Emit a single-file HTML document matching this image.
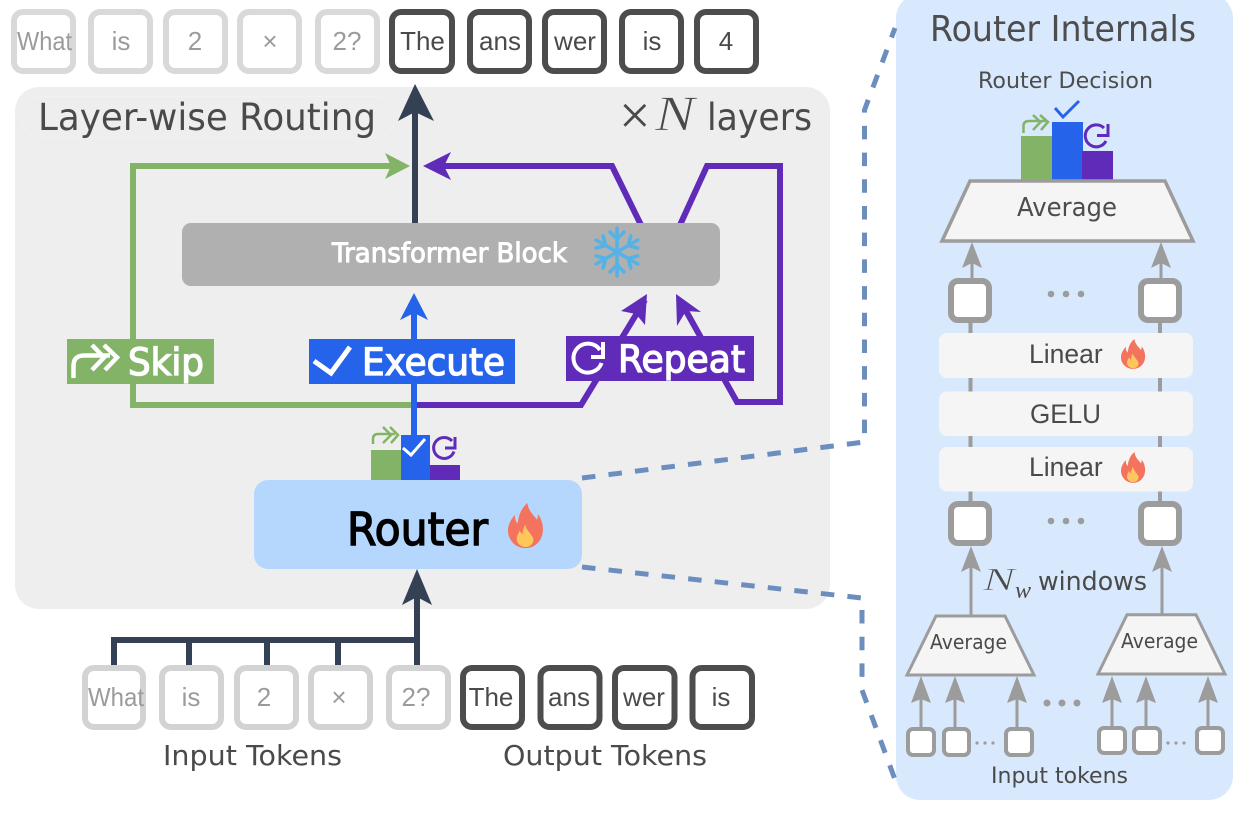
<!DOCTYPE html>
<html><head><meta charset="utf-8"><style>
html,body{margin:0;padding:0;background:#fff;width:1251px;height:819px;overflow:hidden}
svg{display:block}
.d{font-family:"DejaVu Sans",sans-serif}
.l{font-family:"Liberation Sans",sans-serif}
.s{font-family:"Liberation Serif",serif}
.tl{fill:#9b9b9b;font-size:26px;text-anchor:middle}
.td{fill:#4a4a4a;font-size:26px;text-anchor:middle}
.bl{fill:#fff;stroke:#d9d9d9;stroke-width:6}
.bd{fill:#fff;stroke:#4d4d4d;stroke-width:6}
.g{fill:#fff;stroke:#9c9c9c;stroke-width:6}
.g2{fill:#fff;stroke:#9c9c9c;stroke-width:4}
</style></head><body>
<svg width="1251" height="819" viewBox="0 0 1251 819" xmlns="http://www.w3.org/2000/svg">
<defs>
<g id="flame"><path d="M20 0C21 8 26 12 30 17C31 14 31 12 30.500 11C34 15 36 21 36 27C36 38 28 46 18 46C8 46 0 38 0 28C0 21 4 16 7 12C7 16 8 19 10 21C11 12 14 5 20 0Z" fill="#f4735e"/><path d="M18 22C18 27 23 30 26 36C27 41 23 45 18 45C13 45 9 41 9 37C9 33 11 31 12 28C13 30 14 31 15 32C15 28 16 25 18 22Z" fill="#fdc75b"/></g>
<g id="arm" fill="none" stroke="#55b2e6" stroke-width="3.600" stroke-linecap="round"><path d="M0 0V-24M-7 -20L0 -13L7 -20"/></g>
</defs>
<rect width="1251" height="819" fill="#fff"/>
<!-- main panel -->
<rect x="15" y="87" width="815" height="522" rx="24" fill="#eeeeee"/>
<rect x="21.500" y="96.500" width="373" height="41" rx="20" fill="none" stroke="#f1f1f1"/>
<!-- right panel -->
<rect x="896" y="-6" width="337" height="806" rx="24" fill="#d9e9fd"/>
<!-- top tokens -->
<g>
<rect class="bl" x="14" y="12" width="59" height="59" rx="9"/><rect class="bl" x="91" y="12" width="59" height="59" rx="9"/><rect class="bl" x="166" y="12" width="59" height="59" rx="9"/><rect class="bl" x="240" y="12" width="59" height="59" rx="9"/><rect class="bl" x="318" y="12" width="59" height="59" rx="9"/>
<rect class="bd" x="392" y="12" width="60" height="59" rx="9"/><rect class="bd" x="470" y="12" width="59" height="59" rx="9"/><rect class="bd" x="545" y="12" width="59" height="59" rx="9"/><rect class="bd" x="622" y="12" width="59" height="59" rx="9"/><rect class="bd" x="697" y="12" width="59" height="59" rx="9"/>
</g>
<g class="l">
<text class="tl" x="44.500" y="50" textLength="55" lengthAdjust="spacingAndGlyphs">What</text><text class="tl" x="121" y="50">is</text><text class="tl" x="195" y="50">2</text><text class="tl" x="270" y="50">×</text><text class="tl" x="347" y="50">2?</text>
<text class="td" x="422.500" y="50">The</text><text class="td" x="500" y="50">ans</text><text class="td" x="575" y="50">wer</text><text class="td" x="652" y="50">is</text><text class="td" x="726" y="50">4</text>
</g>
<!-- heading -->
<text class="d" x="38" y="130" font-size="37" fill="#4a4a4a" textLength="338" lengthAdjust="spacingAndGlyphs">Layer-wise Routing</text>
<text class="s" x="619" y="134" font-size="56" fill="#4a4a4a">×</text>
<text class="s" x="655" y="130" font-size="50" font-style="italic" fill="#4a4a4a" stroke="#eeeeee" stroke-width=".7" textLength="40" lengthAdjust="spacingAndGlyphs">N</text>
<text class="d" x="707" y="130" font-size="37" fill="#4a4a4a" textLength="105" lengthAdjust="spacingAndGlyphs">layers</text>
<!-- green route -->
<path d="M411 405H133V166H392" fill="none" stroke="#82b366" stroke-width="6"/>
<path d="M410 166L385 153L391 166L385 179Z" fill="#82b366"/>
<!-- purple routes -->
<path d="M416 405H581L645 300" fill="none" stroke="#5f2bb8" stroke-width="6"/>
<path d="M647 294L621 311L636 314L645 325Z" fill="#5f2bb8"/>
<path d="M641 225L612 166H440" fill="none" stroke="#5f2bb8" stroke-width="6"/>
<path d="M423 166L451 152L444 166L451 180Z" fill="#5f2bb8"/>
<path d="M680 225L707 166H780V402H737L681 302" fill="none" stroke="#5f2bb8" stroke-width="6"/>
<path d="M676 294L701 312L686 311L677 326Z" fill="#5f2bb8"/>
<!-- dark arrow out -->
<path d="M415 223V105" fill="none" stroke="#344054" stroke-width="6"/>
<path d="M415 84L434 121L415 112L398 121Z" fill="#344054"/>
<!-- transformer block -->
<rect x="182" y="223" width="538" height="63" rx="9" fill="#b0b0b0"/>
<text class="d" x="332" y="262" font-size="27" fill="#fff" stroke="#fff" stroke-width="1" textLength="235" lengthAdjust="spacingAndGlyphs">Transformer Block</text>
<g transform="translate(617 252)"><use href="#arm"/><use href="#arm" transform="rotate(60)"/><use href="#arm" transform="rotate(120)"/><use href="#arm" transform="rotate(180)"/><use href="#arm" transform="rotate(240)"/><use href="#arm" transform="rotate(300)"/></g>
<!-- blue arrow -->
<path d="M414 437V305" fill="none" stroke="#2563eb" stroke-width="6"/>
<path d="M414 293L428 320L414 313L400 320Z" fill="#2563eb"/>
<!-- labels -->
<rect x="67" y="339" width="147" height="45" fill="#82b366"/>
<path d="M73.500 378V366Q73.500 355.500 84 355.500H110M92 345L104 357.500L92 370M104 345L117 357.500L105 370" fill="none" stroke="#fff" stroke-width="4.500"/>
<text class="d" x="128" y="375" font-size="37" fill="#fff" stroke="#fff" stroke-width="1.300" textLength="76" lengthAdjust="spacingAndGlyphs">Skip</text>
<rect x="309" y="339" width="206" height="45" fill="#2563eb"/>
<path d="M314 361L331 373L350 347" fill="none" stroke="#fff" stroke-width="5"/>
<text class="d" x="362" y="375" font-size="37" fill="#fff" stroke="#fff" stroke-width="1.300" textLength="143" lengthAdjust="spacingAndGlyphs">Execute</text>
<rect x="566" y="336" width="188" height="45" fill="#5f2bb8"/>
<path d="M600 350A14.500 14.500 0 1 0 601.600 363" fill="none" stroke="#fff" stroke-width="4"/>
<path d="M603 342V357H591" fill="none" stroke="#fff" stroke-width="4"/>
<text class="d" x="618" y="372" font-size="37" fill="#fff" stroke="#fff" stroke-width="1.300" textLength="127" lengthAdjust="spacingAndGlyphs">Repeat</text>
<!-- router bars -->
<rect x="371" y="450" width="30" height="30" fill="#82b366"/><rect x="401" y="435" width="29" height="45" fill="#2563eb"/><rect x="430" y="465" width="30" height="15" fill="#5f2bb8"/>
<path d="M373 444V439Q373 434 378 434H395M383 427L391 435L383 443M390 427L398 435L391 443" fill="none" stroke="#82b366" stroke-width="2.500"/>
<path d="M403 448L411 455L425 439" fill="none" stroke="#fff" stroke-width="3"/>
<path d="M452 441A10.500 10.500 0 1 0 454 451.500" fill="none" stroke="#5f2bb8" stroke-width="3"/><path d="M455 437V448H445" fill="none" stroke="#5f2bb8" stroke-width="3"/>
<!-- router -->
<rect x="254" y="480" width="328" height="89" rx="14" fill="#b5d7fd"/>
<text class="d" x="347" y="545" font-size="45" fill="#000" stroke="#000" stroke-width="1.400" textLength="141" lengthAdjust="spacingAndGlyphs">Router</text>
<use href="#flame" transform="translate(508 503) scale(.97 .98)"/>
<!-- input arrow -->
<path d="M114 666V640H417M189 640V666M267 640V666M338 640V666M417 666V590" fill="none" stroke="#344054" stroke-width="6"/>
<path d="M417 569L432 605L417 597L402 605Z" fill="#344054"/>
<!-- bottom tokens -->
<g>
<rect class="bl" style="stroke:#d3d3d3" x="85" y="668" width="58" height="59" rx="9"/><rect class="bl" style="stroke:#d3d3d3" x="162" y="668" width="59" height="59" rx="9"/><rect class="bl" style="stroke:#d3d3d3" x="237" y="668" width="59" height="59" rx="9"/><rect class="bl" style="stroke:#d3d3d3" x="311" y="668" width="59" height="59" rx="9"/><rect class="bl" style="stroke:#d3d3d3" x="389" y="668" width="59" height="59" rx="9"/>
<rect class="bd" x="463" y="668" width="59" height="59" rx="9"/><rect class="bd" x="540.500" y="668" width="59" height="59" rx="9"/><rect class="bd" x="615" y="668" width="59.500" height="59" rx="9"/><rect class="bd" x="692.500" y="668" width="59.500" height="59" rx="9"/>
</g>
<g class="l">
<text class="tl" x="116" y="706" textLength="56" lengthAdjust="spacingAndGlyphs">What</text><text class="tl" x="191" y="706">is</text><text class="tl" x="264" y="706">2</text><text class="tl" x="339" y="706">×</text><text class="tl" x="416" y="706">2?</text>
<text class="td" x="491" y="706">The</text><text class="td" x="569" y="706">ans</text><text class="td" x="644" y="706">wer</text><text class="td" x="721" y="706">is</text>
</g>
<text class="d" x="163" y="765" font-size="27.500" fill="#4a4a4a" textLength="179" lengthAdjust="spacingAndGlyphs">Input Tokens</text>
<text class="d" x="503" y="765" font-size="27.500" fill="#4a4a4a" textLength="204" lengthAdjust="spacingAndGlyphs">Output Tokens</text>
<!-- dashed connectors -->
<path d="M582 478L864.500 442V110L895 28" fill="none" stroke="#6c8ebf" stroke-width="5" stroke-dasharray="13.500 13.200"/>
<path d="M582 567L862 598V690L897 785" fill="none" stroke="#6c8ebf" stroke-width="5" stroke-dasharray="13.500 13.200"/>
<!-- internals -->
<text class="d" x="930" y="41" font-size="36" fill="#4d4d4d" textLength="266" lengthAdjust="spacingAndGlyphs">Router Internals</text>
<text class="d" x="978" y="88" font-size="22" fill="#4d4d4d" textLength="175" lengthAdjust="spacingAndGlyphs">Router Decision</text>
<rect x="1021" y="136" width="31" height="45" fill="#82b366"/><rect x="1052" y="122" width="31" height="59" fill="#2563eb"/><rect x="1082" y="151" width="31" height="30" fill="#5f2bb8"/>
<path d="M1023.500 133V126Q1023.500 121 1029 121H1046M1033 115L1040.500 122L1033 130M1040 115L1048 122L1041 130" fill="none" stroke="#82b366" stroke-width="2.500"/>
<path d="M1055 108L1063 117L1079 101" fill="none" stroke="#2563eb" stroke-width="3"/>
<path d="M1104 128A11 11 0 1 0 1106 141" fill="none" stroke="#5f2bb8" stroke-width="3"/><path d="M1108 124V135.500H1097" fill="none" stroke="#5f2bb8" stroke-width="3"/>
<path d="M970 181H1165L1193 241H942Z" fill="#f5f5f5" stroke="#9c9c9c" stroke-width="3.500"/>
<text class="d" x="1017" y="216" font-size="25.500" fill="#4d4d4d" textLength="100" lengthAdjust="spacingAndGlyphs">Average</text>
<!-- gray arrows upper -->
<path d="M972 279V258M1161 279V258" stroke="#9c9c9c" stroke-width="3" fill="none"/>
<path d="M972 242L982 268L972 263L962 268Z" fill="#9c9c9c"/><path d="M1161 242L1171 268L1161 263L1151 268Z" fill="#9c9c9c"/>
<!-- verticals -->
<path d="M970.500 323V501M1160 323V501" stroke="#9c9c9c" stroke-width="4" fill="none"/>
<rect class="g" x="951" y="281" width="38" height="39" rx="7"/><rect class="g" x="1141" y="281" width="38" height="39" rx="7"/>
<circle cx="1051" cy="294" r="3.300" fill="#9c9c9c"/><circle cx="1066" cy="294" r="3.300" fill="#9c9c9c"/><circle cx="1081" cy="294" r="3.300" fill="#9c9c9c"/>
<rect x="939" y="333" width="254" height="45" rx="8" fill="#f5f5f5"/>
<rect x="939" y="391.500" width="254" height="44.500" rx="8" fill="#f5f5f5"/>
<rect x="939" y="447" width="254" height="44.500" rx="8" fill="#f5f5f5"/>
<text class="l" x="1029" y="363" font-size="26.500" fill="#4a4a4a">Linear</text>
<text class="l" x="1030" y="423" font-size="26.500" fill="#4a4a4a" textLength="71" lengthAdjust="spacingAndGlyphs">GELU</text>
<text class="l" x="1029" y="476" font-size="26.500" fill="#4a4a4a">Linear</text>
<use href="#flame" transform="translate(1121 339) scale(.67 .65)"/>
<use href="#flame" transform="translate(1121 452) scale(.67 .67)"/>
<rect class="g" x="951" y="504" width="38" height="39" rx="7"/><rect class="g" x="1141" y="504" width="38" height="39" rx="7"/>
<circle cx="1051" cy="521" r="3.300" fill="#9c9c9c"/><circle cx="1066" cy="521" r="3.300" fill="#9c9c9c"/><circle cx="1081" cy="521" r="3.300" fill="#9c9c9c"/>
<!-- mid arrows -->
<path d="M971 616V562M1162 614V562" stroke="#9c9c9c" stroke-width="3" fill="none"/>
<path d="M971 546L981 572L971 567L961 572Z" fill="#9c9c9c"/><path d="M1162 546L1172 572L1162 567L1152 572Z" fill="#9c9c9c"/>
<text class="s" x="983" y="590" font-size="32" font-style="italic" fill="#4a4a4a" stroke="#d9e9fd" stroke-width=".6" textLength="32" lengthAdjust="spacingAndGlyphs">N</text>
<text class="s" x="1015" y="598" font-size="24" font-style="italic" fill="#4a4a4a">w</text>
<text class="d" x="1038" y="590" font-size="26" fill="#4a4a4a" textLength="109" lengthAdjust="spacingAndGlyphs">windows</text>
<!-- small trapezoids -->
<path d="M936 616H1005L1034 675H907Z" fill="#f5f5f5" stroke="#9c9c9c" stroke-width="3"/>
<path d="M1127 614.700H1196L1225 674H1098Z" fill="#f5f5f5" stroke="#9c9c9c" stroke-width="3"/>
<text class="d" x="930" y="649" font-size="20" fill="#4a4a4a" textLength="77" lengthAdjust="spacingAndGlyphs">Average</text>
<text class="d" x="1121" y="648" font-size="20" fill="#4a4a4a" textLength="77" lengthAdjust="spacingAndGlyphs">Average</text>
<!-- small arrows -->
<path d="M921 727V695M955 727V695M1017 727V695M1112 726V695M1146 726V695M1208 726V695" stroke="#9c9c9c" stroke-width="3" fill="none"/>
<path d="M921 676L931 703L921 699L911 703ZM955 676L965 703L955 699L945 703ZM1017 676L1027 703L1017 699L1007 703ZM1112 676L1122 703L1112 699L1102 703ZM1146 676L1156 703L1146 699L1136 703ZM1208 676L1218 703L1208 699L1198 703Z" fill="#9c9c9c"/>
<circle cx="1047" cy="703" r="3.500" fill="#9c9c9c"/><circle cx="1062" cy="703" r="3.500" fill="#9c9c9c"/><circle cx="1077" cy="703" r="3.500" fill="#9c9c9c"/>
<rect class="g2" x="908" y="729" width="26" height="26" rx="5"/><rect class="g2" x="944" y="729" width="25" height="26" rx="5"/><rect class="g2" x="1006" y="729" width="26" height="26" rx="5"/>
<rect class="g2" x="1099" y="728" width="26" height="25" rx="5"/><rect class="g2" x="1134" y="728" width="26" height="25" rx="5"/><rect class="g2" x="1197" y="728" width="26" height="25" rx="5"/>
<g fill="#9c9c9c"><circle cx="977" cy="743" r="1.600"/><circle cx="985" cy="743" r="1.600"/><circle cx="993" cy="743" r="1.600"/><circle cx="1168" cy="743" r="1.600"/><circle cx="1176" cy="743" r="1.600"/><circle cx="1184" cy="743" r="1.600"/></g>
<text class="d" x="991" y="783" font-size="22" fill="#4a4a4a" textLength="137" lengthAdjust="spacingAndGlyphs">Input tokens</text>
</svg>
</body></html>
